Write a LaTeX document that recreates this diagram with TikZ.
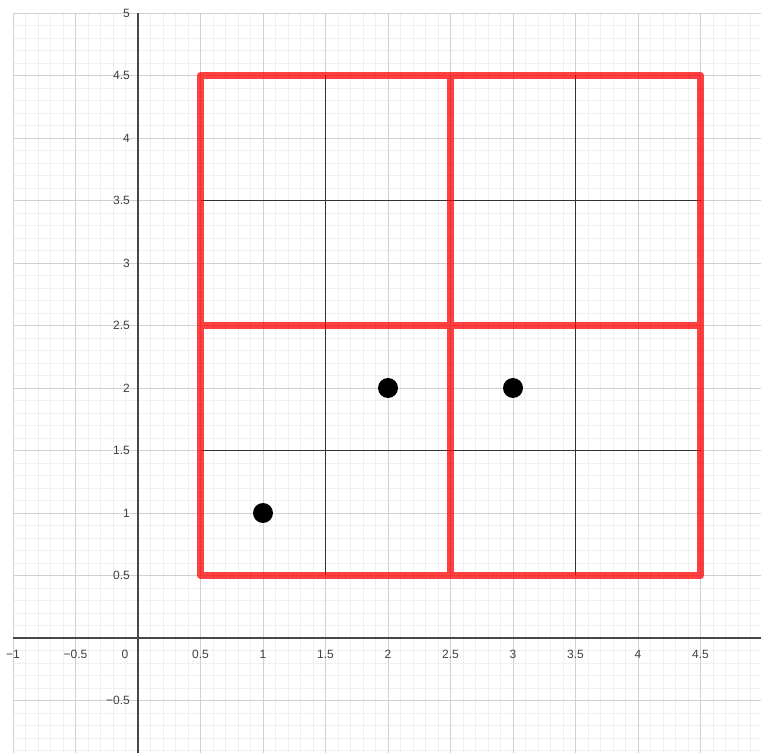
\documentclass[tikz,border=0pt]{standalone}
\usepackage{fontspec}
\setmainfont{Liberation Sans}
\begin{document}
\begin{tikzpicture}[x=125bp,y=125bp,
  minorgrid/.style={draw=black!6,line width=0.6bp},
  majorgrid/.style={draw=black!18,line width=0.9bp},
  axisline/.style={draw=black!72,line width=1.2bp},
  redseg/.style={draw=red,opacity=0.75,line width=6.5bp,line cap=round,line join=round},
  blackseg/.style={draw=black!80,line width=1.8bp},
  tlabel/.style={font=\fontsize{12bp}{14bp}\selectfont,text=black!75,inner sep=0pt},
  dot/.style={circle,fill=black,minimum size=20bp,inner sep=0pt}]
\useasboundingbox (-1.104,-0.92) rectangle (4.984,5.104);
\fill[white] (-1.104,-0.92) rectangle (4.984,5.104);
% grid
\draw[minorgrid,step=0.1] (-1,-0.92) grid (4.984,5);
\draw[majorgrid,step=0.5] (-1,-0.92) grid (4.984,5);
% axes
\draw[axisline] (-1,0) -- (4.984,0);
\draw[axisline] (0,-0.92) -- (0,5);
% black inner lines
\draw[blackseg] (1.5,0.5) -- (1.5,4.5);
\draw[blackseg] (3.5,0.5) -- (3.5,4.5);
\draw[blackseg] (0.5,1.5) -- (4.5,1.5);
\draw[blackseg] (0.5,3.5) -- (4.5,3.5);
% red lines
\draw[redseg] (0.5,0.5) -- (4.5,0.5) -- (4.5,4.5) -- (0.5,4.5) -- cycle
  (2.5,0.5) -- (2.5,4.5) (0.5,2.5) -- (4.5,2.5);
% points
\node[dot] (p1) at (1,1) {};
\node[dot] (p2) at (2,2) {};
\node[dot] (p3) at (3,2) {};
% x labels
\foreach \v/\t/\n in {-1/{−1}/xm1,-0.5/{−0.5}/xm05,0.5/0.5/x05,1/1/x1,1.5/1.5/x15,2/2/x2,2.5/2.5/x25,3/3/x3,3.5/3.5/x35,4/4/x4,4.5/4.5/x45}
  \node[tlabel] (\n) at (\v,-0.128) {\t};
\node[tlabel] (origin) at (-0.104,-0.128) {0};
% y labels
\foreach \v/\t/\n in {-0.5/{−0.5}/ym05,0.5/0.5/y05,1/1/y1,1.5/1.5/y15,2/2/y2,2.5/2.5/y25,3/3/y3,3.5/3.5/y35,4/4/y4,4.5/4.5/y45,5/5/y5}
  \node[tlabel,anchor=east] (\n) at (-0.064,\v) {\t};
\end{tikzpicture}
\end{document}
